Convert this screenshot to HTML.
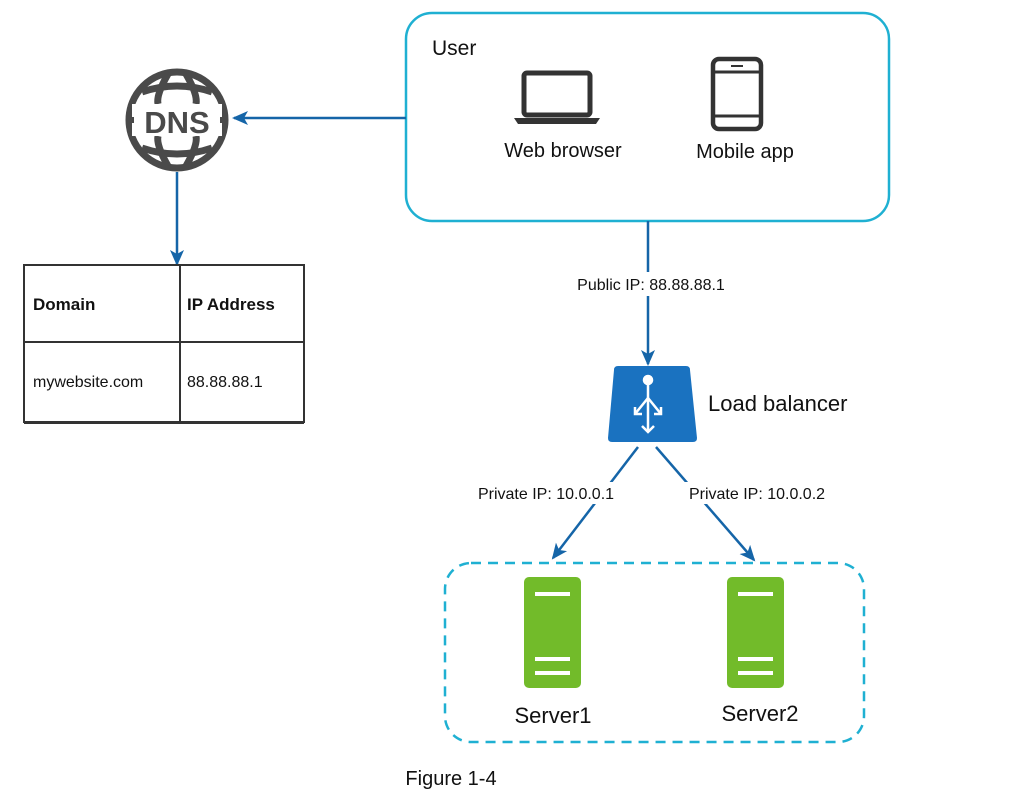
<!DOCTYPE html>
<html><head><style>
body{margin:0;background:#fff;}
svg{display:block;font-family:"Liberation Sans",Arial,sans-serif;}
</style></head><body>
<svg width="1016" height="800" viewBox="0 0 1016 800" xmlns="http://www.w3.org/2000/svg">
<defs>
<marker id="ah" markerWidth="16" markerHeight="16" refX="14" refY="8" orient="auto" markerUnits="userSpaceOnUse">
<path d="M0,1 L16,8 L0,15 L4,8 Z" fill="#1565a8"/>
</marker>
</defs>
<rect x="406" y="13" width="483" height="208" rx="26" fill="none" stroke="#1fb0d2" stroke-width="2.5"/>
<text x="432" y="55" font-size="21" fill="#111">User</text>
<rect x="524" y="73" width="66" height="42" rx="3" fill="none" stroke="#333" stroke-width="5"/>
<path d="M514,118 L600,118 L596,124 L518,124 Z" fill="#333"/>
<text x="563" y="157" font-size="20" fill="#111" text-anchor="middle">Web browser</text>
<rect x="713" y="59" width="48" height="70" rx="6" fill="none" stroke="#333" stroke-width="4.5"/>
<line x1="713" y1="72" x2="761" y2="72" stroke="#333" stroke-width="3"/>
<line x1="713" y1="116" x2="761" y2="116" stroke="#333" stroke-width="3"/>
<line x1="731" y1="66" x2="743" y2="66" stroke="#333" stroke-width="2"/>
<text x="745" y="158" font-size="20" fill="#111" text-anchor="middle">Mobile app</text>
<g stroke="#4a4a4a" fill="none" stroke-width="7">
<circle cx="177" cy="120" r="48"/>
<path d="M142,92 Q177,80 212,92"/>
<path d="M142,148 Q177,160 212,148"/>
<path d="M168,74 Q156,95 158,104"/>
<path d="M186,74 Q198,95 196,104"/>
<path d="M168,166 Q156,145 158,136"/>
<path d="M186,166 Q198,145 196,136"/>
</g>
<rect x="132" y="104" width="90" height="32" fill="#fff"/>
<line x1="126" y1="120" x2="134" y2="120" stroke="#4a4a4a" stroke-width="6"/>
<line x1="220" y1="120" x2="228" y2="120" stroke="#4a4a4a" stroke-width="6"/>
<text x="177" y="133" font-size="31" font-weight="bold" fill="#4a4a4a" text-anchor="middle">DNS</text>
<line x1="406" y1="118" x2="234" y2="118" stroke="#1565a8" stroke-width="2.5" marker-end="url(#ah)"/>
<line x1="177" y1="172" x2="177" y2="264" stroke="#1565a8" stroke-width="2.5" marker-end="url(#ah)"/>
<line x1="648" y1="221" x2="648" y2="364" stroke="#1565a8" stroke-width="2.5" marker-end="url(#ah)"/>
<rect x="562" y="272" width="178" height="24" fill="#fff"/>
<text x="651" y="290" font-size="16" fill="#111" text-anchor="middle">Public IP: 88.88.88.1</text>
<g stroke="#333" stroke-width="2" fill="none">
<rect x="24" y="265" width="280" height="157"/>
<line x1="180" y1="265" x2="180" y2="422"/>
<line x1="24" y1="342" x2="304" y2="342"/>
</g>
<line x1="24" y1="423" x2="304" y2="423" stroke="#333" stroke-width="2"/>
<text x="33" y="310" font-size="17" font-weight="bold" fill="#111">Domain</text>
<text x="187" y="310" font-size="17" font-weight="bold" fill="#111">IP Address</text>
<text x="33" y="387" font-size="16" fill="#111">mywebsite.com</text>
<text x="187" y="387" font-size="16" fill="#111">88.88.88.1</text>
<path d="M618,366 L686,366 Q690,366 690,370 L697,438 Q697,442 693,442 L612,442 Q608,442 608,438 L614,370 Q614,366 618,366 Z" fill="#1a72c0"/>
<g stroke="#fff" stroke-width="2.5" fill="none">
<line x1="648" y1="381" x2="648" y2="432"/>
<circle cx="648" cy="380" r="4" fill="#fff"/>
<line x1="648" y1="398" x2="635" y2="414"/>
<line x1="648" y1="398" x2="661" y2="414"/>
<path d="M635,407 L635,414 L642,414"/>
<path d="M661,407 L661,414 L654,414"/>
<path d="M642,426 L648,432 L654,426"/>
</g>
<text x="708" y="411" font-size="22" fill="#111">Load balancer</text>
<line x1="638" y1="447" x2="553" y2="558" stroke="#1565a8" stroke-width="2.5" marker-end="url(#ah)"/>
<line x1="656" y1="447" x2="754" y2="560" stroke="#1565a8" stroke-width="2.5" marker-end="url(#ah)"/>
<rect x="463" y="482" width="168" height="22" fill="#fff"/>
<rect x="675" y="482" width="168" height="22" fill="#fff"/>
<text x="546" y="499" font-size="16" fill="#111" text-anchor="middle">Private IP: 10.0.0.1</text>
<text x="757" y="499" font-size="16" fill="#111" text-anchor="middle">Private IP: 10.0.0.2</text>
<rect x="445" y="563" width="419" height="179" rx="26" fill="none" stroke="#1fb0d2" stroke-width="2.5" stroke-dasharray="10,7"/>
<g>
<rect x="524" y="577" width="57" height="111" rx="5" fill="#72bb2a"/>
<rect x="535" y="592" width="35" height="4" fill="#fff"/>
<rect x="535" y="657" width="35" height="4" fill="#fff"/>
<rect x="535" y="671" width="35" height="4" fill="#fff"/>
<rect x="727" y="577" width="57" height="111" rx="5" fill="#72bb2a"/>
<rect x="738" y="592" width="35" height="4" fill="#fff"/>
<rect x="738" y="657" width="35" height="4" fill="#fff"/>
<rect x="738" y="671" width="35" height="4" fill="#fff"/>
</g>
<text x="553" y="723" font-size="22" fill="#111" text-anchor="middle">Server1</text>
<text x="760" y="721" font-size="22" fill="#111" text-anchor="middle">Server2</text>
<text x="451" y="785" font-size="20" fill="#111" text-anchor="middle">Figure 1-4</text>
</svg>
</body></html>
